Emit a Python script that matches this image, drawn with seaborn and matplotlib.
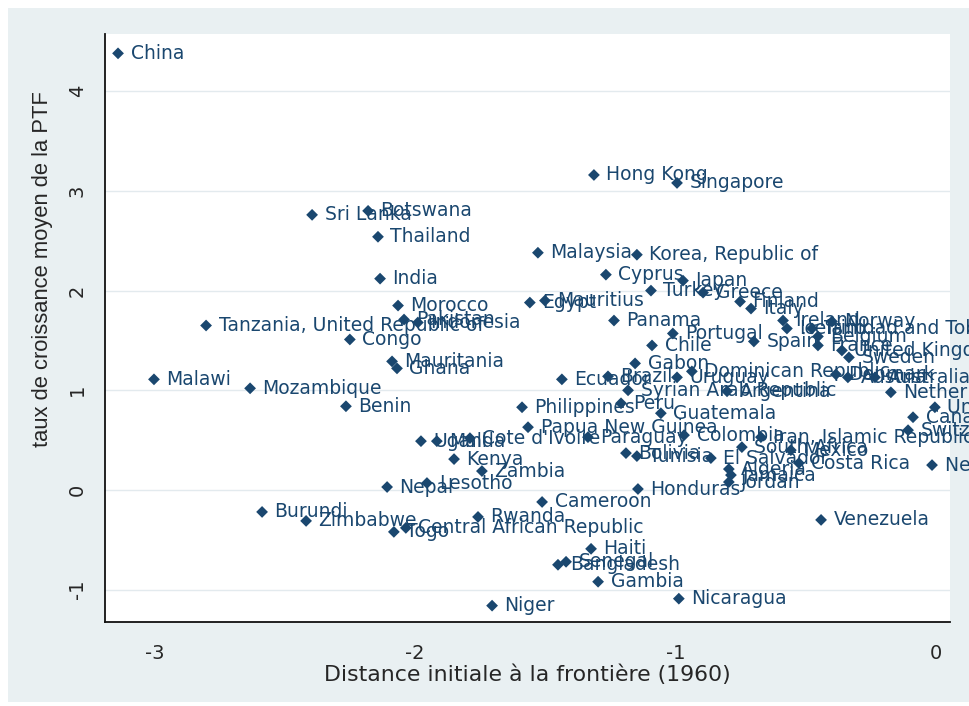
import matplotlib
matplotlib.use("Agg")
import matplotlib.pyplot as plt
import seaborn as sns
import pandas as pd
from matplotlib.patches import Rectangle

# Values
countries = [
    "China", "Hong Kong", "Singapore", "Sri Lanka", "Botswana", "Thailand", "India",
    "Morocco", "Pakistan", "Indonesia", "Tanzania, United Republic of", "Congo",
    "Mauritania", "Ghana", "Malawi", "Mozambique", "Benin", "Burundi", "Zimbabwe",
    "Togo", "Central African Republic", "Nepal", "Lesotho", "Uganda", "Mali",
    "Cote d'Ivoire", "Kenya", "Zambia", "Rwanda", "Cameroon", "Niger", "Haiti",
    "Senegal", "Bangladesh", "Gambia", "Nicaragua", "Honduras", "Papua New Guinea",
    "Philippines", "Paraguay", "Bolivia", "Tunisia", "El Salvador", "Colombia",
    "South Africa", "Iran, Islamic Republic of", "Mexico", "Costa Rica", "Algeria",
    "Jamaica", "Jordan", "Venezuela", "New Zealand", "Switzerland", "Canada",
    "United States", "Netherlands", "Australia", "Austria", "Denmark", "Sweden",
    "United Kingdom", "France", "Belgium", "Trinidad and Tobago", "Iceland",
    "Ireland", "Norway", "Spain", "Italy", "Finland", "Greece", "Japan", "Turkey",
    "Cyprus", "Korea, Republic of", "Malaysia", "Egypt", "Mauritius", "Panama",
    "Portugal", "Chile", "Gabon", "Dominican Republic", "Ecuador", "Brazil",
    "Uruguay", "Syrian Arab Republic", "Argentina", "Peru", "Guatemala",
]
distance = [
    -3.14, -1.313, -0.994, -2.395, -2.18, -2.142, -2.134,
    -2.065, -2.042, -1.989, -2.802, -2.25,
    -2.088, -2.069, -3.002, -2.633, -2.265, -2.587, -2.418,
    -2.081, -2.035, -2.107, -1.954, -1.977, -1.916,
    -1.789, -1.85, -1.743, -1.758, -1.512, -1.704, -1.324,
    -1.42, -1.451, -1.297, -0.987, -1.144, -1.566,
    -1.589, -1.336, -1.19, -1.148, -0.864, -0.967,
    -0.745, -0.672, -0.557, -0.526, -0.795,
    -0.787, -0.795, -0.441, -0.015, -0.107, -0.088,
    -0.004, -0.173, -0.234, -0.338, -0.384, -0.334,
    -0.361, -0.453, -0.453, -0.476, -0.572,
    -0.587, -0.399, -0.699, -0.71, -0.752, -0.894, -0.971, -1.094,
    -1.267, -1.148, -1.528, -1.559, -1.501, -1.236,
    -1.01, -1.09, -1.155, -0.937, -1.436, -1.259,
    -0.994, -1.182, -0.802, -1.209, -1.056,
]
growth = [
    4.38, 3.16, 3.08, 2.76, 2.80, 2.54, 2.12,
    1.85, 1.71, 1.68, 1.65, 1.51,
    1.29, 1.22, 1.11, 1.02, 0.84, -0.22, -0.31,
    -0.42, -0.38, 0.03, 0.07, 0.49, 0.49,
    0.52, 0.31, 0.19, -0.27, -0.12, -1.16, -0.59,
    -0.72, -0.75, -0.92, -1.09, 0.01, 0.63,
    0.83, 0.53, 0.37, 0.34, 0.32, 0.55,
    0.43, 0.53, 0.40, 0.27, 0.21,
    0.15, 0.08, -0.30, 0.25, 0.60, 0.73,
    0.83, 0.98, 1.13, 1.13, 1.16, 1.33,
    1.40, 1.45, 1.54, 1.62, 1.62,
    1.70, 1.69, 1.49, 1.82, 1.89, 1.98, 2.10, 2.00,
    2.16, 2.36, 2.38, 1.88, 1.90, 1.70,
    1.57, 1.45, 1.27, 1.19, 1.11, 1.14,
    1.13, 1.00, 0.99, 0.87, 0.77,
]
x_ticks = [-3, -2, -1, 0]
y_ticks = [-1, 0, 1, 2, 3, 4]

df = pd.DataFrame({"country": countries, "distance": distance, "growth": growth})

sns.set_style("white")
plt.rcParams["font.family"] = ["DejaVu Sans"]
navy = "#1a476f"

fig = plt.figure(figsize=(9.69, 7.06), dpi=100)
fig.patch.set_facecolor("white")
fig.patches.append(Rectangle((8 / 969, 4 / 706), 1, 694 / 706, transform=fig.transFigure,
                             facecolor="#e9f0f2", edgecolor="none", zorder=-10))

ax = fig.add_axes([105 / 969, 84 / 706, 845 / 969, 588 / 706])
ax.set_facecolor("white")

sns.scatterplot(data=df, x="distance", y="growth", marker="D", s=36, color=navy,
                edgecolor="none", linewidth=0, ax=ax, zorder=3)

for name, xv, yv in zip(countries, distance, growth):
    ax.annotate(name, (xv, yv), xytext=(9, 0), textcoords="offset points",
                va="center", ha="left", fontsize=13.5, color=navy,
                annotation_clip=False, clip_on=False, zorder=4)

ax.set_xlim(-3.19, 0.054)
ax.set_ylim(-1.324, 4.574)
ax.set_xticks(x_ticks)
ax.set_yticks(y_ticks)
ax.set_xticklabels([str(t) for t in x_ticks], fontsize=14)
ax.set_yticklabels([str(t) for t in y_ticks], fontsize=14, rotation=90, va="center")

ax.grid(axis="y", color="#e3eaee", linewidth=1.0)
ax.grid(axis="x", visible=False)
ax.set_axisbelow(True)

for side in ["top", "right"]:
    ax.spines[side].set_visible(False)
for side in ["left", "bottom"]:
    ax.spines[side].set_color("#111111")
    ax.spines[side].set_linewidth(1.3)

ax.tick_params(axis="both", direction="out", length=9, width=1.2, color="#111111")
ax.tick_params(axis="x", pad=7)
ax.tick_params(axis="y", pad=4)

ax.set_xlabel("Distance initiale à la frontière (1960)", fontsize=15.8, labelpad=1)
ax.set_ylabel("taux de croissance moyen de la PTF", fontsize=15.8,
              family=["Liberation Sans", "DejaVu Sans"])
ax.yaxis.set_label_coords(-0.062, 0.60)

fig.savefig("out.png", dpi=100)
